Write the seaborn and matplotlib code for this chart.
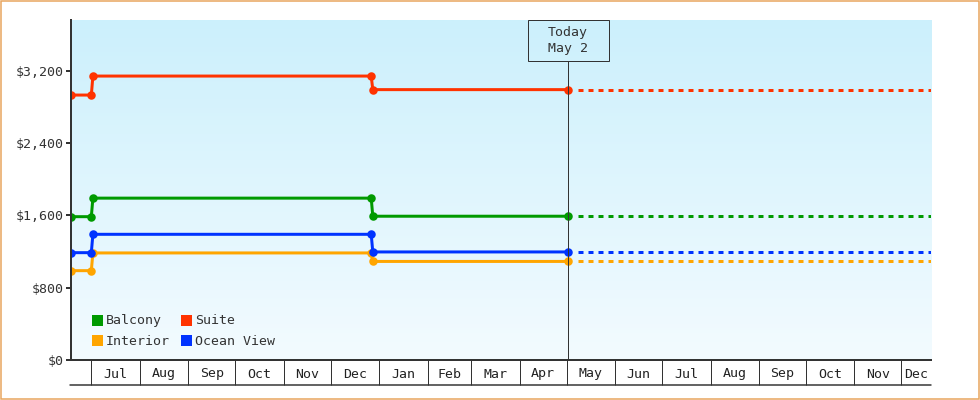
import numpy as np
import pandas as pd
import matplotlib
matplotlib.use("Agg")
import matplotlib.pyplot as plt
import matplotlib.dates as mdates
import seaborn as sns
from matplotlib.patches import Rectangle
from matplotlib.lines import Line2D
from matplotlib.colors import LinearSegmentedColormap

# ---------------- data ----------------
start_date = "2022-06-18"
end_date = "2023-12-20"
today_date = "2023-05-02"
today_label = "Today\nMay 2"

change_dates = ["2022-06-18", "2022-07-01", "2022-07-02",
                "2022-12-27", "2022-12-28", "2023-05-02"]
categories = ["Balcony", "Interior", "Suite", "Ocean View"]
balcony = [1585, 1585, 1790, 1790, 1590, 1590]
interior = [988, 988, 1184, 1184, 1090, 1090]
suite = [2930, 2930, 3140, 3140, 2990, 2990]
ocean_view = [1187, 1187, 1390, 1390, 1195, 1195]
colors = ["#009a00", "#ffa500", "#ff3300", "#0033ff"]

y_ticks = [0, 800, 1600, 2400, 3200]
y_tick_labels = ["$0", "$800", "$1,600", "$2,400", "$3,200"]
y_max = 3760

# ---------------- style ----------------
sns.set_theme(style="white")
plt.rcParams["font.family"] = ["DejaVu Sans Mono", "DejaVu Sans"]
plt.rcParams["lines.scale_dashes"] = False
FS = 9.5
TXT = "#333333"
PX = 72 / 100  # points per pixel

series = {"Balcony": balcony, "Interior": interior,
          "Suite": suite, "Ocean View": ocean_view}
palette = dict(zip(categories, colors))

df = pd.DataFrame(
    [(pd.Timestamp(d), v, c) for c in categories for d, v in zip(change_dates, series[c])],
    columns=["date", "price", "cabin"])

fig = plt.figure(figsize=(9.8, 4), dpi=100)
ax = fig.add_axes([71 / 980, 40 / 400, 860 / 980, 340 / 400])

# background gradient
grad = LinearSegmentedColormap.from_list("bg", ["#f3fbff", "#ccf0fc"])
ax.imshow(np.linspace(0, 1, 256).reshape(-1, 1), cmap=grad, origin="lower",
          extent=[0, 1, 0, 1], transform=ax.transAxes, aspect="auto", zorder=0)

sns.lineplot(data=df, x="date", y="price", hue="cabin", hue_order=categories,
             palette=palette, marker="o", markersize=8.5 * PX, markeredgewidth=0,
             linewidth=3 * PX, legend=False, ax=ax, zorder=3)

t0 = pd.Timestamp(start_date)
t1 = pd.Timestamp(end_date)
tt = pd.Timestamp(today_date)

# projected (dotted) continuation
for c in categories:
    last = series[c][-1]
    ax.plot([tt + pd.Timedelta(days=6), t1], [last, last], color=palette[c],
            lw=3 * PX, linestyle=(0, (5 * PX, 5 * PX)), zorder=2,
            solid_capstyle="butt", dash_capstyle="butt")

ax.set_xlim(mdates.date2num(t0), mdates.date2num(t1))
ax.set_ylim(0, y_max)

# today marker
box_h = 41 / 340
box_w_days = 81 / (860 / (t1 - t0).days)
trans = ax.get_xaxis_transform()
ax.plot([tt, tt], [0, 1 - box_h], color=TXT, lw=1 * PX, transform=trans, zorder=4)
ax.add_patch(Rectangle((mdates.date2num(tt) - box_w_days / 2, 1 - box_h), box_w_days, box_h,
                       transform=trans, fill=False, edgecolor=TXT, lw=1 * PX, zorder=5,
                       clip_on=False))
ax.text(tt, 1 - box_h / 2, today_label, transform=trans, ha="center", va="center",
        fontsize=FS, color=TXT, linespacing=1.35, zorder=6)

# y axis
ax.set_yticks(y_ticks)
ax.set_yticklabels(y_tick_labels)
ax.tick_params(axis="y", which="major", direction="out", length=5 * PX, width=2 * PX,
               color=TXT, labelsize=FS, labelcolor=TXT, pad=1.5, left=True)

# x axis: month band
months = pd.date_range(t0, t1, freq="MS")
ax.set_xticks(mdates.date2num(months))
ax.set_xticklabels([""] * len(months))
centers, labels = [], []
bounds = [t0] + list(months) + [t1]
for a, b in zip(bounds[:-1], bounds[1:]):
    if (b - a).days >= 15:
        centers.append(mdates.date2num(a) + (b - a).days / 2)
        labels.append(a.strftime("%b"))
ax.set_xticks(centers, minor=True)
ax.set_xticklabels(labels, minor=True)
band = 25
ax.tick_params(axis="x", which="major", direction="out", length=band * PX, width=1 * PX,
               color=TXT, bottom=True)
ax.tick_params(axis="x", which="minor", length=0, labelsize=FS, labelcolor="#222222",
               pad=17.5 * PX, bottom=True)
for lbl in ax.get_xticklabels(minor=True):
    lbl.set_verticalalignment("baseline")
ax.plot([-1 / 860, 1], [-band / 340, -band / 340], transform=ax.transAxes, color=TXT,
        lw=1.5 * PX, clip_on=False)

ax.set_xlabel("")
ax.set_ylabel("")
for s in ["top", "right"]:
    ax.spines[s].set_visible(False)
for s in ["left", "bottom"]:
    ax.spines[s].set_color(TXT)
    ax.spines[s].set_linewidth(2 * PX)
    ax.spines[s].set_zorder(7)
ax.grid(False)

# legend
handles = [Line2D([], [], marker="s", ls="", ms=11 * PX, color=palette[c], mew=0)
           for c in categories]
ax.legend(handles, categories, ncol=2, loc="lower left",
          bbox_to_anchor=(20 / 860, 12 / 340), frameon=False, fontsize=FS,
          handlelength=0.85, handletextpad=0.25, columnspacing=0.85,
          labelspacing=0.58, borderpad=0, borderaxespad=0, labelcolor=TXT)

fig.add_artist(Rectangle((0.75 / 980, 0.75 / 400), 978.5 / 980, 398.5 / 400,
                         transform=fig.transFigure, fill=False,
                         edgecolor="#e8a45c", lw=1.5 * PX))

fig.savefig("out.png", dpi=100)
